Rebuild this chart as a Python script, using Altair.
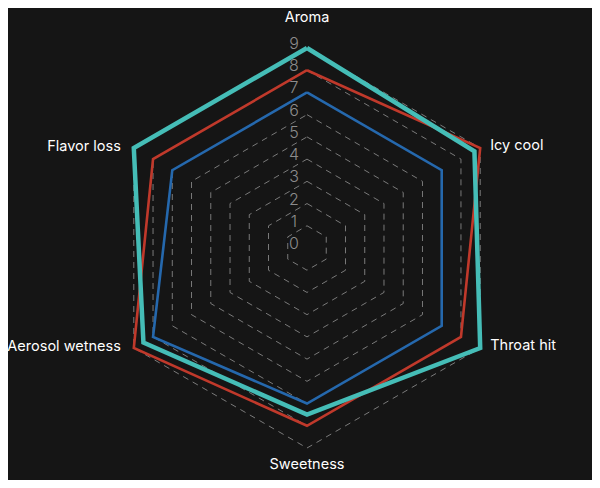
import math
import altair as alt
import pandas as pd

categories = ["Aroma", "Icy cool", "Throat hit", "Sweetness", "Aerosol wetness", "Flavor loss"]
series_names = ["Blue", "Red", "Teal"]
series_blue = [7.0, 7.0, 7.0, 7.0, 8.0, 7.0]
series_red = [8.0, 9.0, 8.0, 8.0, 9.0, 8.0]
series_teal = [9.0, 8.7, 9.0, 7.5, 8.5, 9.0]
ticks = [0, 1, 2, 3, 4, 5, 6, 7, 8, 9]
tick_labels = ["0", "1", "2", "3", "4", "5", "6", "7", "8", "9"]

colors = ["#2568ad", "#c0392b", "#45bdb7"]
widths = [2.6, 2.6, 4.5]
BG = "#151515"

n = len(categories)
u = 200 / 9.0
W, H = 584, 472
cx, cy = 299, 240
xdom = [-cx / u, (W - cx) / u]
ydom = [-(H - cy) / u, cy / u]
xs = alt.Scale(domain=xdom, nice=False, zero=False)
ys = alt.Scale(domain=ydom, nice=False, zero=False)

ANG = "datum.idx * 2 * PI / 6"

rows = []
for name, vals in zip(series_names, [series_blue, series_red, series_teal]):
    for i in range(n + 1):
        rows.append({"series": name, "idx": i % n, "ord": i, "value": vals[i % n]})
sdf = pd.DataFrame(rows)

grows = []
for t in ticks[1:]:
    for i in range(n + 1):
        grows.append({"level": t, "idx": i % n, "ord": i, "value": t})
gdf = pd.DataFrame(grows)

cdf = pd.DataFrame({"category": categories, "idx": list(range(n)), "value": [ticks[-1]] * n})
tdf = pd.DataFrame({"value": ticks, "label": tick_labels, "zero": [0] * len(ticks)})


def polar(chart):
    return chart.transform_calculate(
        px=f"datum.value * sin({ANG})",
        py=f"datum.value * cos({ANG})",
    )


grid = polar(alt.Chart(gdf)).mark_line(
    color="#7a7a7a", strokeDash=[6, 5], strokeWidth=1
).encode(
    x=alt.X("px:Q", scale=xs, axis=None),
    y=alt.Y("py:Q", scale=ys, axis=None),
    detail="level:N",
    order="ord:Q",
)

lines = []
for name, col, w in zip(series_names, colors, widths):
    lines.append(
        polar(alt.Chart(sdf)).transform_filter(alt.datum.series == name).mark_line(
            color=col, strokeWidth=w, strokeJoin="miter"
        ).encode(
            x=alt.X("px:Q", scale=xs, axis=None),
            y=alt.Y("py:Q", scale=ys, axis=None),
            order="ord:Q",
        )
    )

tick_text = alt.Chart(tdf).mark_text(
    color="#8c8c8c", fontSize=16, font="Inter", dx=-13, dy=-4, fontWeight=300
).encode(
    x=alt.X("zero:Q", scale=xs, axis=None),
    y=alt.Y("value:Q", scale=ys, axis=None),
    text="label:N",
)


def label_layer(filt, **kw):
    return polar(alt.Chart(cdf)).transform_filter(filt).mark_text(
        color="#ffffff", fontSize=14.5, font="Inter", **kw
    ).encode(
        x=alt.X("px:Q", scale=xs, axis=None),
        y=alt.Y("py:Q", scale=ys, axis=None),
        text="category:N",
    )


lab_top = label_layer("datum.idx == 0", align="center", dy=-30)
lab_bot = label_layer("datum.idx == 3", align="center", dy=17)
lab_right = label_layer("datum.idx == 1 || datum.idx == 2", align="left", dx=10, dy=-2)
lab_left = label_layer("datum.idx == 4 || datum.idx == 5", align="right", dx=-13, dy=-1)

chart = alt.layer(grid, *lines, tick_text, lab_top, lab_bot, lab_right, lab_left).properties(
    width=W, height=H, background=BG, padding=0,
    autosize=alt.AutoSizeParams(type="none"),
).configure_view(stroke=None)

chart.save("out.html", embed_options={"renderer": "svg", "actions": False})
